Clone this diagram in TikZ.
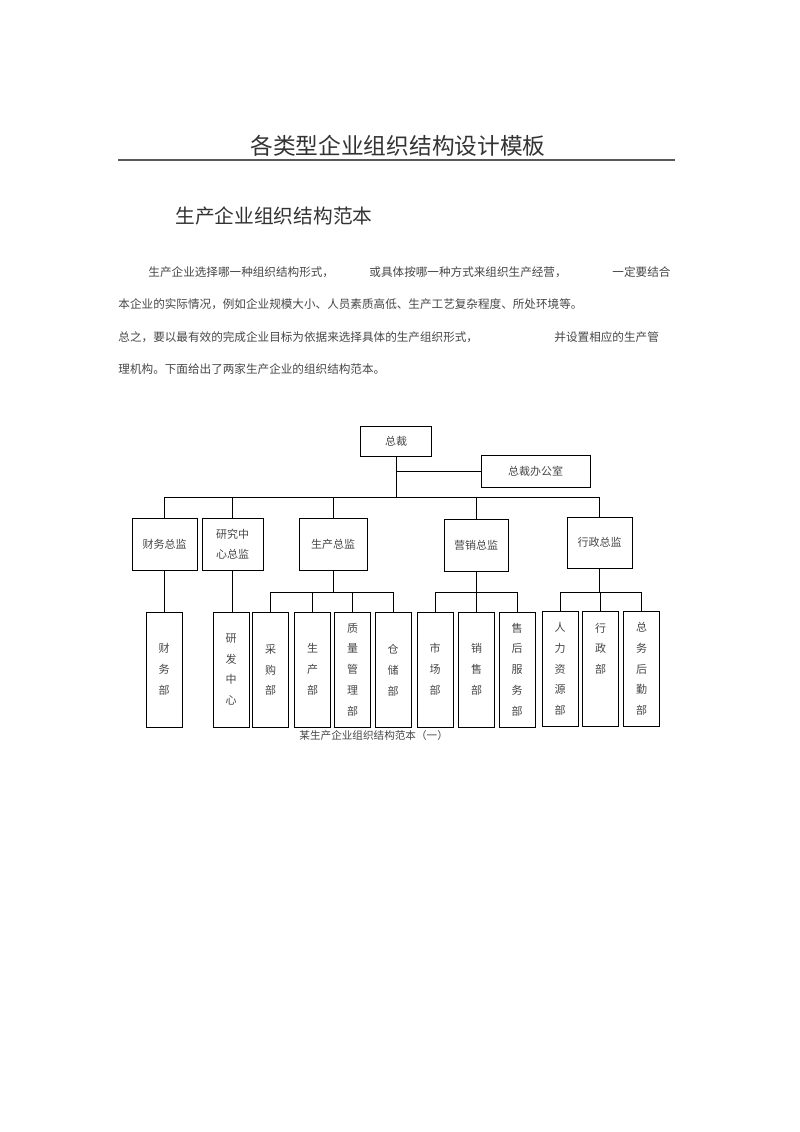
\documentclass[tikz,border=0pt]{standalone}
\usepackage{fontspec}
\newfontfamily\cjk{Noto Sans CJK SC}
\definecolor{inkgray}{HTML}{464646}
\definecolor{rulegray}{HTML}{5A5A5A}
\tikzset{
  unit/.style={draw, shape=rectangle, line width=0.9pt, inner sep=0pt, text=inkgray,
    font=\cjk\fontsize{11}{20}\selectfont},
  dept/.style={unit, minimum width=36pt, minimum height=115pt, align=center,
    font=\cjk\fontsize{11}{20.8}\selectfont},
  prose/.style={anchor=west, inner sep=0pt, text=inkgray, font=\cjk\fontsize{11.6}{14}\selectfont},
}

\begin{document}
\begin{tikzpicture}[x=1pt, y=-1pt, line width=0.9pt]
\useasboundingbox (0,0) rectangle (800,1132);

\node [inner sep=0pt, text=black!80, font=\cjk\fontsize{22.7}{26}\selectfont] (title) at (398,146) {各类型企业组织结构设计模板};
\draw [rulegray, line width=1.6pt] (118,160) -- (675,160);
\node [prose, text=black!80, font=\cjk\fontsize{19.7}{22}\selectfont] (sub) at (175,216) {生产企业组织结构范本};

\node [prose] (p1a) at (148,272) {生产企业选择哪一种组织结构形式，};
\node [prose] (p1b) at (369,272) {或具体按哪一种方式来组织生产经营，};
\node [prose] (p1c) at (612,272) {一定要结合};
\node [prose] (p2) at (118,304) {本企业的实际情况，例如企业规模大小、人员素质高低、生产工艺复杂程度、所处环境等。};
\node [prose] (p3a) at (118,337) {总之，要以最有效的完成企业目标为依据来选择具体的生产组织形式，};
\node [prose] (p3b) at (554,337) {并设置相应的生产管};
\node [prose] (p4) at (118,369) {理机构。下面给出了两家生产企业的组织结构范本。};

\node [unit, minimum width=71pt, minimum height=30pt] (zc) at (396,441) {总裁};
\node [unit, minimum width=109pt, minimum height=32pt] (ofc) at (535.5,471) {总裁办公室};

\node [unit, minimum width=65pt, minimum height=52pt] (cw) at (164.5,544) {财务总监};
\node [unit, minimum width=61pt, minimum height=52pt, align=left] (yf) at (232.5,544) {研究中\\心总监};
\node [unit, minimum width=68pt, minimum height=52pt] (sc) at (333,544) {生产总监};
\node [unit, minimum width=64pt, minimum height=52pt] (yx) at (476,545) {营销总监};
\node [unit, minimum width=65pt, minimum height=51pt] (xz) at (599.5,542.5) {行政总监};

\node [dept] (cwb) at (164,669.5) {财\\务\\部};
\node [dept] (yfb) at (231,669.5) {研\\发\\中\\心};
\node [dept] (cg) at (270.5,670) {采\\购\\部};
\node [dept] (scb) at (312.5,669.5) {生\\产\\部};
\node [dept] (zl) at (352.5,669.5) {质\\量\\管\\理\\部};
\node [dept] (cc) at (393,670) {仓\\储\\部};
\node [dept] (sca) at (435,669.5) {市\\场\\部};
\node [dept] (xs) at (476.5,669.5) {销\\售\\部};
\node [dept] (sh) at (517,669.5) {售\\后\\服\\务\\部};
\node [dept] (rl) at (560,669) {人\\力\\资\\源\\部};
\node [dept] (xzb) at (600.5,669) {行\\政\\部\\~\\~};
\node [dept] (zw) at (641.5,669) {总\\务\\后\\勤\\部};

\node [inner sep=0pt, anchor=west, text=inkgray, font=\cjk\fontsize{10.6}{12}\selectfont] (cap) at (299,735) {某生产企业组织结构范本（一）};

\coordinate (bus) at (398,497);
\coordinate (sub) at (398,592);
\draw (zc.south) -- (zc.south |- bus);
\draw (zc.south |- ofc.west) -- (ofc.west);
\draw (cw.north |- bus) -- (xz.north |- bus);
\foreach \n in {cw,yf,sc,yx,xz}
  \draw (\n.north |- bus) -- (\n.north);
\draw (cw.south) -- (cw.south |- cwb.north);
\draw (yf.south) -- (yf.south |- yfb.north);
\draw (sc.south) -- (sc.south |- sub);
\draw (yx.south) -- (yx.south |- sub);
\draw (xz.south) -- (xz.south |- sub);
\draw (cg.north |- sub) -- (cc.north |- sub);
\draw (sca.north |- sub) -- (sh.north |- sub);
\draw (rl.north |- sub) -- (zw.north |- sub);
\foreach \n in {cg,scb,zl,cc,sca,xs,sh,rl,xzb,zw}
  \draw (\n.north |- sub) -- (\n.north);
\end{tikzpicture}
\end{document}
